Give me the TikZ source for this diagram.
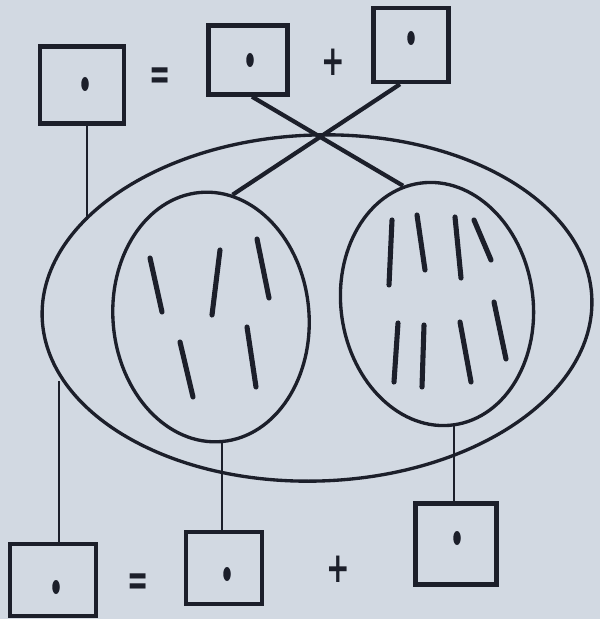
\documentclass[tikz,border=0pt]{standalone}
\usepackage{fontspec}
\setsansfont{DejaVu Sans}
\usepackage{tikz}
\usetikzlibrary{calc,shapes.geometric}
\definecolor{paper}{HTML}{D2D9E2}
\definecolor{ink}{HTML}{1C1F2A}
\tikzset{
  box/.style={draw=ink,line width=2.5pt,inner sep=0pt,path picture={\fill[ink] ($(path picture bounding box.center)+(#1)$) ellipse (0.75mm and 1.4mm);}},
  box/.default={0,0},
  sym/.style={font=\sffamily\bfseries\fontsize{16}{16}\selectfont,text=ink,inner sep=0pt},
  cell/.style={draw=ink,line width=1.9pt,ellipse,inner sep=0pt},
  wire/.style={draw=ink,line width=1.2pt},
  cross/.style={draw=ink,line width=2.4pt},
  chromo/.style={draw=ink,line width=2.9pt,line cap=round},
}
\begin{document}
\begin{tikzpicture}[x=0.2mm,y=-0.2mm]
  \fill[paper] (0,0) rectangle (600,619);
  \useasboundingbox (0,0) rectangle (600,619);
  \node[box={3,-1},minimum width=16.8mm,minimum height=15.4mm] (tl) at (82,85) {};
  \node[sym] (eqtop) at (160,79) {\scalebox{0.9}[1.6]{=}};
  \node[box={2,0},minimum width=15.8mm,minimum height=13.8mm] (tm) at (248,60) {};
  \node[sym] (plustop) at (333,62) {\scalebox{1}[1.5]{+}};
  \node[box={0,-7},minimum width=15mm,minimum height=14.8mm] (tr) at (411,45) {};
  \node[cell,minimum width=110mm,minimum height=69.2mm,rotate=2] (whole) at (317,308) {};
  \node[cell,minimum width=39.2mm,minimum height=50mm,rotate=5] (lc) at (211,317) {};
  \node[cell,minimum width=38.4mm,minimum height=48.8mm,rotate=8] (rc) at (437,304) {};
  \node[box={3,7},minimum width=17.2mm,minimum height=14.4mm] (bl) at (53,580) {};
  \node[sym] (eqbot) at (138,585) {\scalebox{0.9}[1.6]{=}};
  \node[box={3,6},minimum width=15.2mm,minimum height=14.4mm] (bm) at (224,568) {};
  \node[sym] (plusbot) at (338,569) {\scalebox{1}[1.5]{+}};
  \node[box={1,-6},minimum width=16.2mm,minimum height=16.2mm] (br) at (456,544) {};
  \coordinate (tlfoot) at (87,220);
  \coordinate (blfoot) at (59,381);
  \draw[wire] (tl.south -| tlfoot) -- (tlfoot);
  \draw[wire] (blfoot) -- (blfoot |- bl.north);
  \draw[wire] (lc.south) -- (lc.south |- bm.north);
  \draw[wire] (rc.south) -- (rc.south |- br.north);
  \draw[cross] ([xshift=0.8mm]tm.south) -- (rc.98);
  \draw[cross] ([xshift=-2.2mm]tr.south) -- (lc.75);
  \foreach \p/\q in {{150,258}/{162,312},{220,250}/{212,315},{257,239}/{269,298},{180,342}/{193,397},{247,327}/{256,387},
    {392,220}/{389,285},{417,215}/{425,270},{455,217}/{461,278},{474,220}/{491,260},
    {398,323}/{394,382},{424,325}/{422,387},{460,322}/{471,382},{494,302}/{506,359}}
    \draw[chromo] (\p) -- (\q);
\end{tikzpicture}
\end{document}
